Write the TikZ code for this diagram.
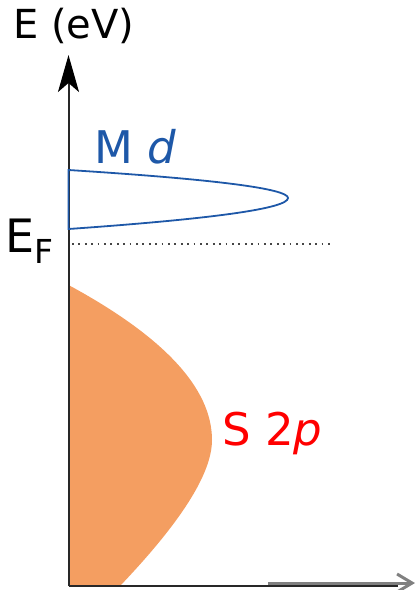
\documentclass[tikz,border=0pt]{standalone}
\usepackage{fontspec}
\setmainfont{DejaVu Sans}
\definecolor{bandOrange}{RGB}{244,158,97}
\definecolor{bandBlue}{RGB}{30,88,168}
\definecolor{axisDark}{RGB}{40,40,40}
\definecolor{axisGray}{RGB}{128,128,128}
\definecolor{levelGray}{RGB}{70,70,70}
\usetikzlibrary{arrows.meta,positioning}

\begin{document}
\begin{tikzpicture}[x=1pt, y=-1pt,
  axisline/.style={axisDark, line width=2pt},
  lbl/.style={inner sep=0pt, anchor=base west},
  big/.style={font=\fontsize{45}{54}\selectfont}
]
  \useasboundingbox (0,0) rectangle (418,590);

  % axes end points
  \coordinate (O)     at (68.5,586);
  \coordinate (ytop)  at (68.5,55);
  \coordinate (xend)  at (398,586);
  \coordinate (xa)    at (268,583);
  \coordinate (xb)    at (415,583);

  % S 2p band
  \fill[bandOrange] (68.5,285) .. controls (164,336.7) and (212,388.3) .. (212,440)
                    .. controls (212,473.3) and (181.3,521.7) .. (120,586)
                    -- (O) -- cycle;

  % axes
  \draw[axisline, -{Stealth[length=37pt, width=21pt, inset=9pt, black]}] (O) -- (ytop);
  \draw[axisline] (O) -- (xend);
  \draw[axisGray, line width=3pt, -{Straight Barb[length=15pt, width=18pt]}] (xa) -- (xb);

  % M d band
  \draw[bandBlue, line width=1.8pt] (68.5,170) .. controls (215,179.3) and (288,188.7) .. (288,198)
                    .. controls (288,208.3) and (215,218.7) .. (68.5,229) -- cycle;

  % Fermi level
  \coordinate (efl) at (72,244);
  \coordinate (efr) at (330,244);
  \draw[levelGray, line width=1.8pt, dash pattern=on 1.8pt off 4.6pt] (efl) -- (efr);

  % labels
  \node[lbl, font=\fontsize{40}{48}\selectfont] (elab) at (13,38) {E (eV)};
  \node[lbl, font=\fontsize{46}{54}\selectfont] (ef) at (5.5,252)
    {E\raisebox{-11pt}{\fontsize{33}{40}\selectfont F}};
  \node[lbl, big, text=bandBlue] (md) at (94.6,163) {M \textit{d}};
  \node[lbl, big, text=red] (sp) at (222,445) {S 2\textit{p}};
\end{tikzpicture}
\end{document}
